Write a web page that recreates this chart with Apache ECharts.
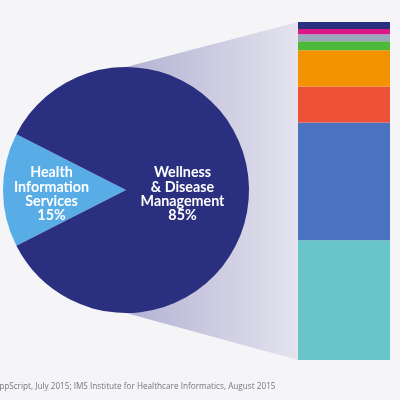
<!DOCTYPE html>
<html><head><meta charset="utf-8">
<script src="https://cdn.jsdelivr.net/npm/echarts@6/dist/echarts.min.js"></script>
<style>html,body{margin:0;padding:0;background:#f5f4f6}#c{width:400px;height:400px}</style>
</head><body><div id="c"></div>
<script>
// Pie data
const pieNames = ['Health\nInformation\nServices', 'Wellness\n& Disease\nManagement'];
const pieValues = [15, 85];
const pieColors = ['#58ade6', '#2b2f7f'];
// Breakdown bar (bottom to top), percent of bar
const barNames = ['Teal', 'Blue', 'Red', 'Orange', 'Green', 'Gray', 'Magenta', 'Navy'];
const barValues = [35.5, 34.9, 10.7, 10.7, 2.7, 2.1, 1.5, 2.1];
const barColors = ['#69c6c8', '#4b72be', '#ee5136', '#f39300', '#4db93b', '#9aa8bd', '#dc1786', '#2b2f7f'];
const sourceText = 'AppScript, July 2015; IMS Institute for Healthcare Informatics, August 2015';

const total = barValues.reduce((a, b) => a + b, 0);
const PIE_C = [126, 190], PIE_R = 123;
const GRID = {left: 298, right: 10, top: 22, bottom: 40};

const chart = echarts.init(document.getElementById('c'));
const series = [{
  type: 'pie', center: PIE_C, radius: PIE_R, startAngle: 180 + pieValues[0] * 1.8,
  silent: true, z: 3,
  data: pieNames.map((n, i) => ({
    name: n, value: pieValues[i], itemStyle: {color: pieColors[i]},
    label: {offset: i === 0 ? [-10, 4] : [-8, 4]}
  })),
  label: {
    show: true, position: 'inside', color: '#fff', fontFamily: 'Lato', fontWeight: 'bold',
    fontSize: 14.3, lineHeight: 14.2, formatter: p => p.name + '\n' + p.value + '%'
  },
  labelLine: {show: false}
}];
barNames.forEach((n, i) => series.push({
  type: 'bar', name: n, stack: 's', barWidth: '100%', silent: true,
  data: [barValues[i]], itemStyle: {color: barColors[i]}
}));

chart.setOption({
  backgroundColor: '#f5f4f6', animation: false,
  grid: GRID,
  xAxis: {type: 'category', data: ['x'], show: false},
  yAxis: {type: 'value', min: 0, max: total, show: false},
  series: series
});

const yTop = chart.convertToPixel({yAxisIndex: 0}, total);
const yBot = chart.convertToPixel({yAxisIndex: 0}, 0);
const xBar = GRID.left;
chart.setOption({
  graphic: [{
    type: 'polygon', z: 0,
    shape: {points: [[PIE_C[0], PIE_C[1] - PIE_R], [xBar, yTop], [xBar, yBot], [PIE_C[0], PIE_C[1] + PIE_R]]},
    style: {fill: new echarts.graphic.LinearGradient(0, 0, 1, 0, [
      {offset: 0, color: '#b3b2d3'}, {offset: 1, color: '#e4e3ee'}])}
  }, {
    type: 'text', left: -6, top: 383, z: 5,
    style: {text: sourceText, fill: '#77767c', font: '8.2px "Open Sans"'}
  }]
});
</script></body></html>
